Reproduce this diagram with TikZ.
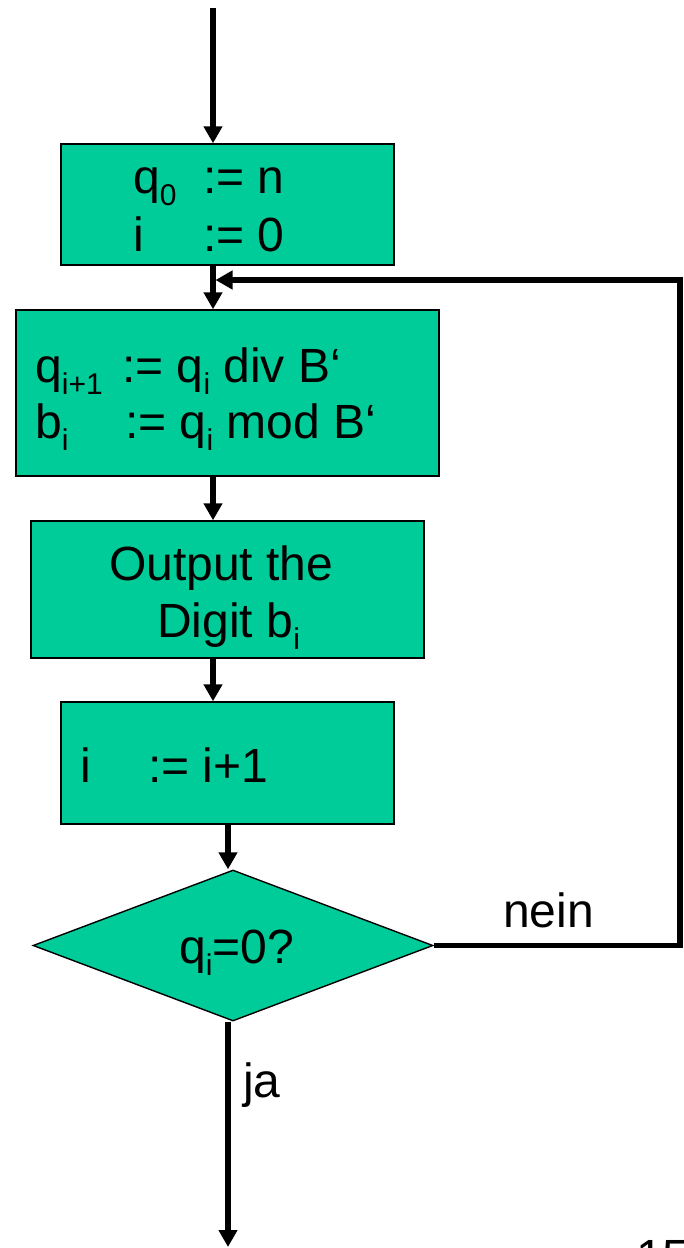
\documentclass[tikz,border=0pt]{standalone}
\usepackage{fontspec}
\setmainfont{Liberation Sans}
\usetikzlibrary{arrows.meta,shapes.geometric}
\definecolor{boxfill}{RGB}{0,204,153}
\newcommand\subtxt[1]{\raisebox{-12pt}{\fontsize{30}{30}\selectfont #1}}
\begin{document}
\begin{tikzpicture}[x=1pt,y=-1pt,
  procbox/.style={draw=black,line width=1.4pt,fill=boxfill,inner sep=0pt},
  flow/.style={line width=5.5pt,-{Triangle[length=17pt,width=18pt]}},
  plain/.style={line width=5.5pt},
  txt/.style={anchor=base west,inner sep=0pt,font=\fontsize{48}{48}\selectfont}]
\useasboundingbox (0,0) rectangle (684,1248);

% boxes
\node[procbox,minimum width=333pt,minimum height=121pt] (b1) at (227.5,204.5) {};
\node[procbox,minimum width=423pt,minimum height=166pt] (b2) at (227.5,393) {};
\node[procbox,minimum width=393pt,minimum height=137pt] (b3) at (227.5,589.5) {};
\node[procbox,minimum width=333pt,minimum height=122pt] (b4) at (227.5,763) {};
\node[diamond,draw=black,line width=1.4pt,fill=boxfill,inner sep=0pt,
      minimum width=400pt,minimum height=151pt] (dia) at (233,945.5) {};

% texts
\node[txt] (t1a) at (133,193) {\makebox[70pt][l]{q\subtxt{0}}:= n};
\node[txt] (t1b) at (133,251) {\makebox[70pt][l]{i}:= 0};
\node[txt] (t2a) at (35,382) {\makebox[87pt][l]{q\subtxt{i+1}}:= q\subtxt{i} div B‘};
\node[txt] (t2b) at (35,438) {\makebox[90pt][l]{b\subtxt{i}}:= q\subtxt{i} mod B‘};
\node[txt] (t3a) at (109,580) {Output the};
\node[txt] (t3b) at (157,637) {Digit b\subtxt{i}};
\node[txt] (t4) at (80,782) {\makebox[68pt][l]{i}:= i+1};
\node[txt] (t5) at (179,963) {q\subtxt{i}=0?};
\node[txt] (nein) at (503,927) {nein};
\node[txt] (ja) at (243,1097) {ja};
\node[txt] (pg) at (636,1273) {15};

% connectors
\coordinate (start) at (213,8);
\coordinate (colb) at (228,0);
\coordinate (endpt) at (228,1247);
\coordinate (ltr) at (680,280);
\coordinate (merge) at (215.5,280);

\draw[flow] (start) -- (start |- b1.north);
\draw[flow] (b1.south -| start) -- (b2.north -| start);
\draw[flow] (b2.south -| start) -- (b3.north -| start);
\draw[flow] (b3.south -| start) -- (b4.north -| start);
\draw[flow] (b4.south -| colb) -- (dia.north -| colb);
\draw[flow] (dia.south -| colb) -- (endpt);
\draw[flow] (dia.east) -- (dia.east -| ltr) -- (ltr) -- (merge);
\end{tikzpicture}
\end{document}
